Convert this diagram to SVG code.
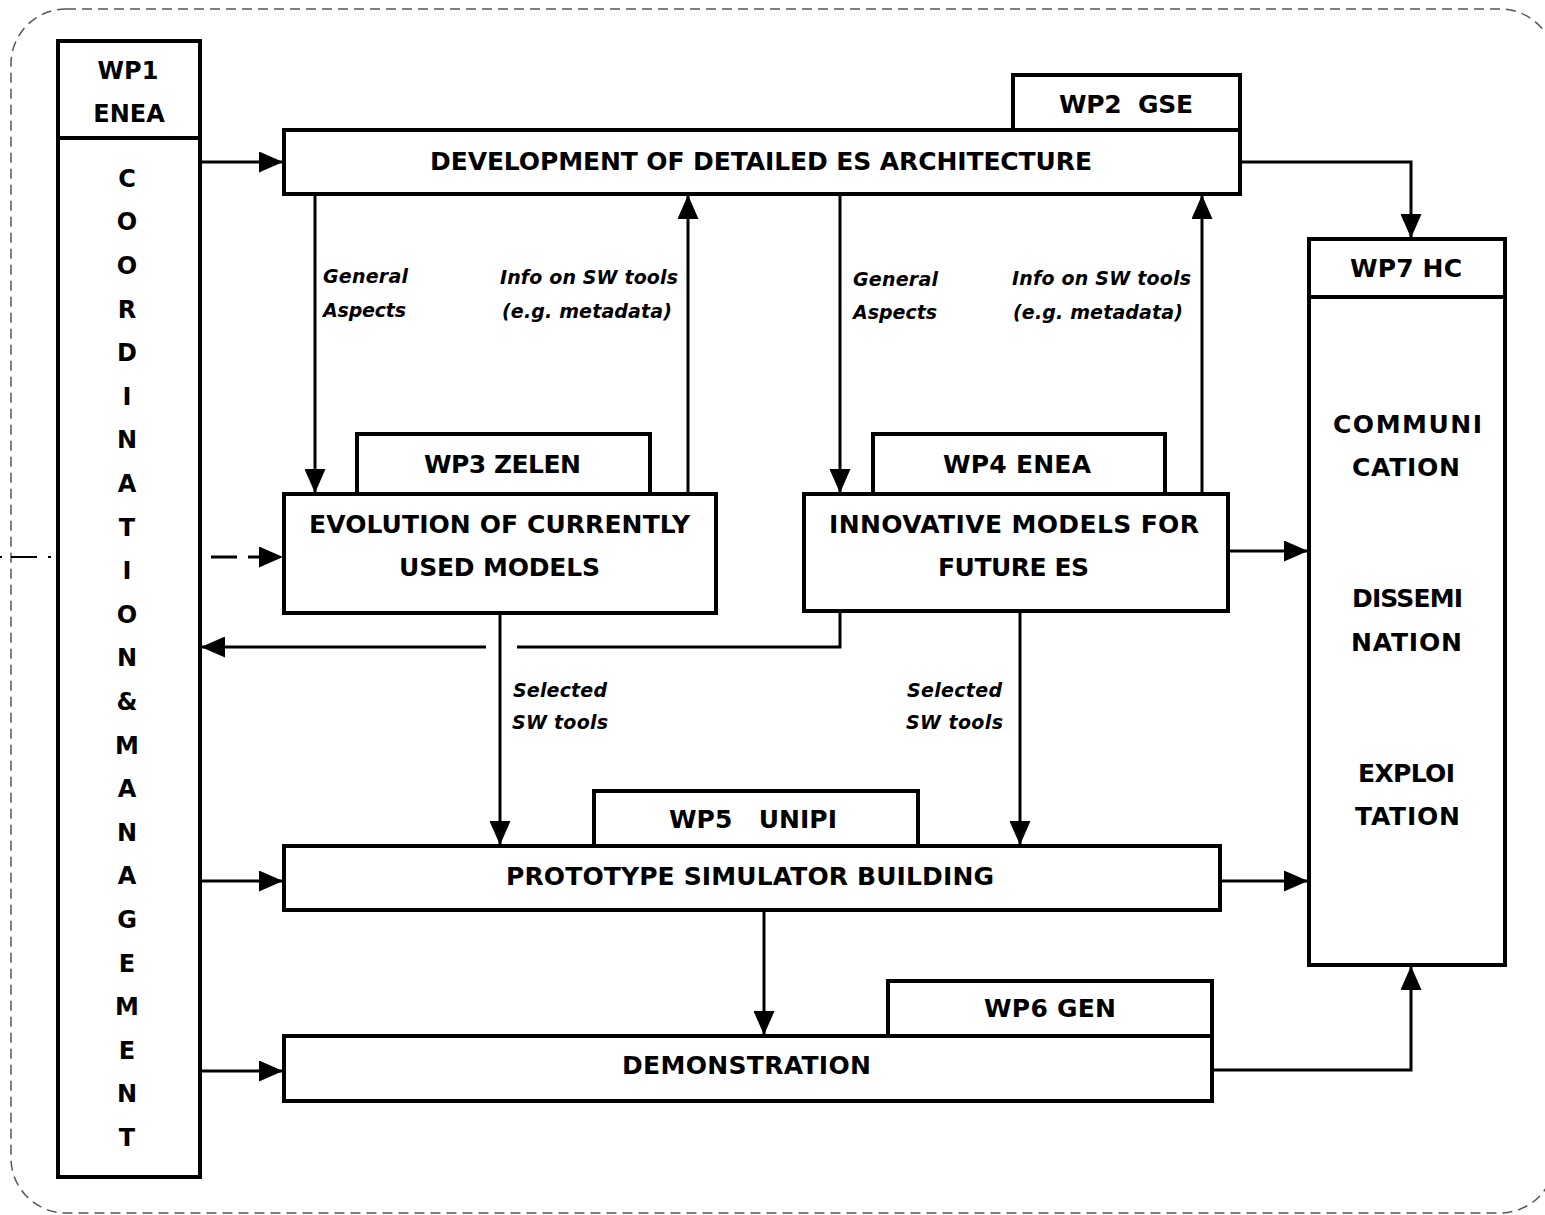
<svg xmlns="http://www.w3.org/2000/svg" width="1545" height="1215" viewBox="0 0 1545 1215">
<style>
.box{fill:#fff;stroke:#000;stroke-width:4}
.t{font-family:"DejaVu Sans",Verdana,sans-serif;font-weight:bold;font-size:25px;fill:#000;white-space:pre}
.v{font-family:"DejaVu Sans",Verdana,sans-serif;font-weight:bold;font-size:24px;fill:#000;text-anchor:middle}
.i{font-family:"DejaVu Sans",Verdana,sans-serif;font-weight:bold;font-style:italic;font-size:19px;fill:#000}
.c{fill:none;stroke:#000;stroke-width:3}
</style>
<defs>
<marker id="ah" viewBox="0 0 24 21" markerWidth="24" markerHeight="21" refX="23" refY="10.5" orient="auto" markerUnits="userSpaceOnUse">
<path d="M0,0 L24,10.5 L0,21 Z" fill="#000"/>
</marker>
</defs>
<rect x="11" y="9" width="1544" height="1204" rx="55" ry="55" fill="none" stroke="#555" stroke-width="1.5" stroke-dasharray="10 6"/>

<g id="wp1">
<rect class="box" x="58" y="41" width="142" height="1136"/>
<line x1="58" y1="138" x2="200" y2="138" stroke="#000" stroke-width="4"/>
<text class="v" x="128" y="79">WP1</text>
<text class="v" x="129" y="122">ENEA</text>
<text class="v" x="127" y="187">C</text>
<text class="v" x="127" y="230">O</text>
<text class="v" x="127" y="274">O</text>
<text class="v" x="127" y="318">R</text>
<text class="v" x="127" y="361">D</text>
<text class="v" x="127" y="405">I</text>
<text class="v" x="127" y="448">N</text>
<text class="v" x="127" y="492">A</text>
<text class="v" x="127" y="536">T</text>
<text class="v" x="127" y="579">I</text>
<text class="v" x="127" y="623">O</text>
<text class="v" x="127" y="666">N</text>
<text class="v" x="127" y="710">&amp;</text>
<text class="v" x="127" y="754">M</text>
<text class="v" x="127" y="797">A</text>
<text class="v" x="127" y="841">N</text>
<text class="v" x="127" y="884">A</text>
<text class="v" x="127" y="928">G</text>
<text class="v" x="127" y="972">E</text>
<text class="v" x="127" y="1015">M</text>
<text class="v" x="127" y="1059">E</text>
<text class="v" x="127" y="1102">N</text>
<text class="v" x="127" y="1146">T</text>
</g>

<g id="wp2">
<rect class="box" x="1013" y="75" width="227" height="55"/>
<text class="t" x="1059" y="113" textLength="134">WP2  GSE</text>
<rect class="box" x="284" y="130" width="956" height="64"/>
<text class="t" x="430" y="170" textLength="662">DEVELOPMENT OF DETAILED ES ARCHITECTURE</text>
</g>

<g id="wp3">
<rect class="box" x="357" y="434" width="293" height="60"/>
<text class="t" x="424" y="473" textLength="157">WP3 ZELEN</text>
<rect class="box" x="284" y="494" width="432" height="119"/>
<text class="t" x="309" y="533" textLength="381">EVOLUTION OF CURRENTLY</text>
<text class="t" x="399" y="576" textLength="201">USED MODELS</text>
</g>

<g id="wp4">
<rect class="box" x="873" y="434" width="292" height="60"/>
<text class="t" x="943" y="473" textLength="148">WP4 ENEA</text>
<rect class="box" x="804" y="494" width="424" height="117"/>
<text class="t" x="829" y="533" textLength="370">INNOVATIVE MODELS FOR</text>
<text class="t" x="938" y="576" textLength="151">FUTURE ES</text>
</g>

<g id="wp5">
<rect class="box" x="594" y="791" width="324" height="55"/>
<text class="t" x="669" y="828" textLength="168">WP5   UNIPI</text>
<rect class="box" x="284" y="846" width="936" height="64"/>
<text class="t" x="506" y="885" textLength="488">PROTOTYPE SIMULATOR BUILDING</text>
</g>

<g id="wp6">
<rect class="box" x="888" y="981" width="324" height="55"/>
<text class="t" x="984" y="1017" textLength="132">WP6 GEN</text>
<rect class="box" x="284" y="1036" width="928" height="65"/>
<text class="t" x="622" y="1074" textLength="249">DEMONSTRATION</text>
</g>

<g id="wp7">
<rect class="box" x="1309" y="239" width="196" height="726"/>
<line x1="1309" y1="297" x2="1505" y2="297" stroke="#000" stroke-width="4"/>
<text class="t" x="1350" y="277" textLength="112">WP7 HC</text>
<text class="t" x="1333" y="433" textLength="149">COMMUNI</text>
<text class="t" x="1352" y="476" textLength="108">CATION</text>
<text class="t" x="1352" y="607" textLength="111">DISSEMI</text>
<text class="t" x="1351" y="651" textLength="111">NATION</text>
<text class="t" x="1358" y="782" textLength="97">EXPLOI</text>
<text class="t" x="1355" y="825" textLength="105">TATION</text>
</g>

<g id="connectors">
<line class="c" x1="200" y1="162" x2="282" y2="162" marker-end="url(#ah)"/>
<path class="c" d="M1240,162 H1411 V237" marker-end="url(#ah)"/>
<line class="c" x1="315" y1="194" x2="315" y2="492" marker-end="url(#ah)"/>
<line class="c" x1="688" y1="494" x2="688" y2="196" marker-end="url(#ah)"/>
<line class="c" x1="840" y1="194" x2="840" y2="492" marker-end="url(#ah)"/>
<line class="c" x1="1202" y1="494" x2="1202" y2="196" marker-end="url(#ah)"/>
<line x1="0" y1="557" x2="2" y2="557" stroke="#000" stroke-width="2"/>
<line x1="11" y1="557" x2="37" y2="557" stroke="#000" stroke-width="2"/>
<line x1="48" y1="557" x2="51" y2="557" stroke="#000" stroke-width="2"/>
<line class="c" x1="211" y1="557" x2="282" y2="557" stroke-dasharray="26 11" marker-end="url(#ah)"/>
<line class="c" x1="1228" y1="551" x2="1307" y2="551" marker-end="url(#ah)"/>
<path class="c" d="M840,611 V647 H517"/>
<line class="c" x1="486" y1="647" x2="202" y2="647" marker-end="url(#ah)"/>
<line class="c" x1="500" y1="613" x2="500" y2="844" marker-end="url(#ah)"/>
<line class="c" x1="1020" y1="611" x2="1020" y2="844" marker-end="url(#ah)"/>
<line class="c" x1="200" y1="881" x2="282" y2="881" marker-end="url(#ah)"/>
<line class="c" x1="1220" y1="881" x2="1307" y2="881" marker-end="url(#ah)"/>
<line class="c" x1="764" y1="910" x2="764" y2="1034" marker-end="url(#ah)"/>
<line class="c" x1="200" y1="1071" x2="282" y2="1071" marker-end="url(#ah)"/>
<path class="c" d="M1212,1070 H1411 V967" marker-end="url(#ah)"/>
</g>

<g id="labels">
<text class="i" x="323" y="283" textLength="85">General</text>
<text class="i" x="323" y="317" textLength="83">Aspects</text>
<text class="i" x="500" y="284" textLength="178">Info on SW tools</text>
<text class="i" x="502" y="318" textLength="170">(e.g. metadata)</text>
<text class="i" x="853" y="286" textLength="85">General</text>
<text class="i" x="853" y="319" textLength="84">Aspects</text>
<text class="i" x="1012" y="285" textLength="179">Info on SW tools</text>
<text class="i" x="1013" y="319" textLength="170">(e.g. metadata)</text>
<text class="i" x="513" y="697" textLength="94">Selected</text>
<text class="i" x="512" y="729" textLength="96">SW tools</text>
<text class="i" x="907" y="697" textLength="95">Selected</text>
<text class="i" x="906" y="729" textLength="97">SW tools</text>
</g>
</svg>
